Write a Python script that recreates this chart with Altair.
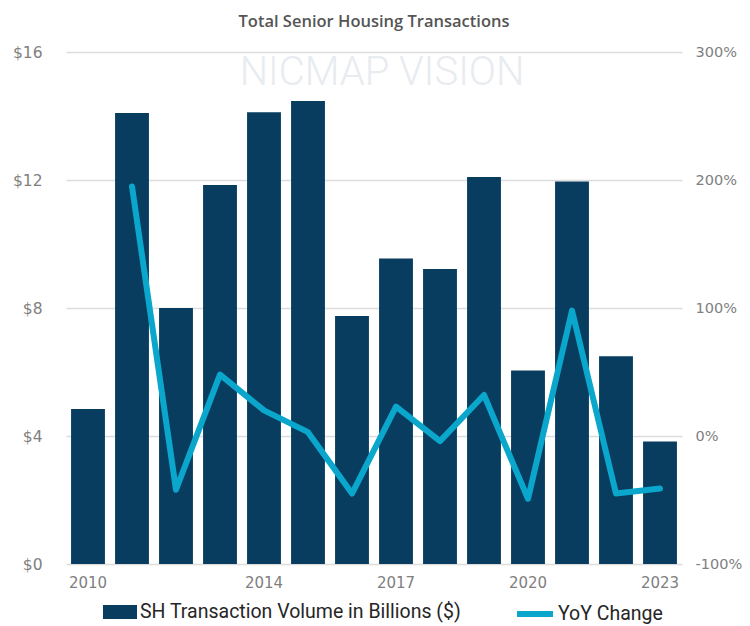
import altair as alt
import pandas as pd

years = ["2010", "2011", "2012", "2013", "2014", "2015", "2016",
         "2017", "2018", "2019", "2020", "2021", "2022", "2023"]
volume = [4.84, 14.09, 8.0, 11.84, 14.12, 14.47, 7.75,
          9.55, 9.22, 12.09, 6.05, 11.95, 6.49, 3.83]
yoy = [None, 195, -42, 48, 20, 3, -45, 23, -4, 32, -49, 98, -45, -41]
shown_years = ["2010", "2014", "2017", "2020", "2023"]
bar_name = "SH Transaction Volume in Billions ($)"
line_name = "YoY Change"
title_text = "Total Senior Housing Transactions"
watermark = ["NICMAP VISION"]

NAVY = "#083d5f"
BLUE = "#0aa6cc"
GREY = "#808080"
FONT = "DejaVu Sans"

df = pd.DataFrame({"year": years, "volume": volume, "yoy": yoy,
                   "s1": bar_name, "s2": line_name})

base = alt.Chart(df)

x_enc = alt.X("year:O", sort=years, title=None,
              scale=alt.Scale(paddingInner=0.23, paddingOuter=0.115),
              axis=alt.Axis(values=shown_years, labelAngle=0, ticks=False,
                            domain=False, labelPadding=11, labelFontSize=15,
                            labelColor=GREY, labelFont=FONT))

bars = base.mark_bar(color=NAVY).encode(
    x=x_enc,
    y=alt.Y("volume:Q", title=None,
            scale=alt.Scale(domain=[0, 16], nice=False),
            axis=alt.Axis(values=[0, 4, 8, 12, 16], labelExpr="'$' + datum.value",
                          ticks=False, domain=False, grid=True, gridColor="#dcdcdc",
                          gridWidth=1.5, labelPadding=24, labelFontSize=15.5,
                          labelColor=GREY, labelFont=FONT)),
    fill=alt.Fill("s1:N", title=None,
                  scale=alt.Scale(domain=[bar_name], range=[NAVY]),
                  legend=alt.Legend(orient="none", legendX=37, legendY=543,
                                    symbolType="M-1,-0.41H1V0.41H-1Z",
                                    symbolSize=1156, symbolStrokeWidth=0,
                                    labelFontSize=19.5, labelColor="#262626",
                                    labelFont="Roboto", labelOffset=3,
                                    labelLimit=500)),
)

line = base.transform_filter("datum.yoy != null").mark_line(
    strokeWidth=6, strokeCap="round", strokeJoin="round").encode(
    x=alt.X("year:O", sort=years),
    y=alt.Y("yoy:Q", title=None,
            scale=alt.Scale(domain=[-100, 300], nice=False),
            axis=alt.Axis(orient="right", values=[-100, 0, 100, 200, 300],
                          labelExpr="datum.value + '%'", ticks=False,
                          domain=False, grid=False, labelPadding=13,
                          labelFontSize=14.5, labelColor=GREY, labelFont=FONT)),
    stroke=alt.Stroke("s2:N", title=None,
                      scale=alt.Scale(domain=[line_name], range=[BLUE]),
                      legend=alt.Legend(orient="none", legendX=448, legendY=541,
                                        symbolType="stroke", symbolSize=1296,
                                        symbolStrokeWidth=6,
                                        labelFontSize=19.5, labelColor="#262626",
                                        labelFont="Roboto", labelOffset=2,
                                        labelLimit=500)),
)

wm = alt.Chart(pd.DataFrame({"t": watermark})).mark_text(
    fontSize=40, font="Roboto", fontWeight=300, color="#e8ebef",
    align="center", baseline="middle").encode(
    text="t:N", x=alt.value(316), y=alt.value(21))

chart = alt.layer(wm, bars, line).resolve_scale(y="independent").properties(
    width=616, height=512,
    title=alt.TitleParams(title_text, fontSize=16.5, font="Open Sans", fontWeight=600,
                          color="#555555", anchor="middle", offset=14),
    autosize=alt.AutoSizeParams(type="none"),
    padding={"left": 58, "top": 44, "right": 60, "bottom": 62},
).configure_view(stroke=None)

chart.save("out.html", embed_options={"renderer": "svg", "actions": False})
